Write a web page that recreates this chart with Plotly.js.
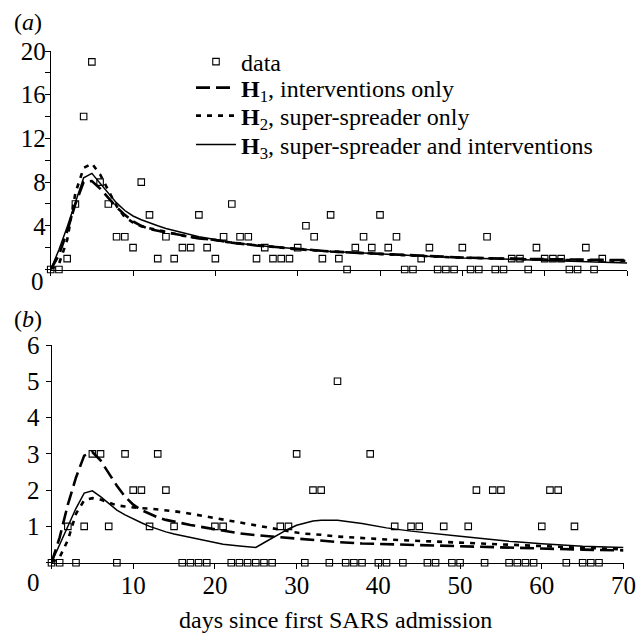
<!DOCTYPE html>
<html>
<head>
<meta charset="utf-8">
<script src="https://cdn.plot.ly/plotly-3.0.1.min.js"></script>
<style>html,body{margin:0;padding:0;background:#fff;}#chart{width:644px;height:635px;}</style>
</head>
<body>
<div id="chart"></div>
<script>
// ---- observed daily cases ----
const days = [0,1,2,3,4,5,6,7,8,9,10,11,12,13,14,15,16,17,18,19,20,21,22,23,24,25,26,27,28,29,30,31,32,33,34,35,36,37,38,39,40,41,42,43,44,45,46,47,48,49,50,51,52,53,54,55,56,57,58,59,60,61,62,63,64,65,66,67];
const casesA = [0,0,1,6,14,19,8,6,3,3,2,8,5,1,3,1,2,2,5,2,1,3,6,3,3,1,2,1,1,1,2,4,3,1,5,1,0,2,3,2,5,2,3,0,0,1,2,0,0,0,2,0,0,3,0,0,1,1,0,2,1,1,1,0,0,2,0,1];
const casesB = [0,0,1,0,1,3,3,1,0,3,2,2,1,3,2,1,0,0,0,0,1,1,0,0,0,0,0,0,1,1,3,0,2,2,0,5,0,0,0,3,0,0,1,0,1,1,0,0,1,0,0,1,2,0,2,2,0,0,0,0,1,2,2,0,1,0,0,0];

// ---- model curves, panel (a) ----
const modelDaysA = [0,1,2,3,4,5,6,7,8,9,10,11,12,13,14,16,18,20,22,25,28,30,34,38,42,46,50,55,60,65,70];
const h1A = [0,1.3,3.5,6.0,8.0,8.1,7.4,6.5,5.7,5.0,4.4,4.0,3.7,3.55,3.4,3.1,2.85,2.7,2.45,2.2,2.0,1.85,1.65,1.5,1.35,1.2,1.1,1.0,0.95,0.9,0.85];
const h2A = [0,0.5,2.7,7.0,9.3,9.7,8.7,7.3,5.8,4.8,4.3,3.95,3.75,3.6,3.45,3.1,2.85,2.7,2.45,2.2,2.0,1.85,1.65,1.48,1.33,1.2,1.08,0.98,0.9,0.85,0.8];
const h3A = [0,1.8,3.9,6.1,8.4,8.8,7.9,7.0,6.1,5.4,4.9,4.55,4.25,4.0,3.75,3.35,3.0,2.75,2.5,2.2,2.0,1.85,1.65,1.5,1.35,1.2,1.05,0.95,0.85,0.75,0.6];

// ---- model curves, panel (b) ----
const modelDaysB = [0,1,2,3,4,5,6,7,8,9,10,11,12,13,14,15,17,19,21,23,25,26,27,28,29,30,31,32,33,35,38,41,44,47,50,53,56,60,63,65,70];
const h1B = [0,0.7,1.6,2.35,2.95,3.05,2.82,2.48,2.12,1.82,1.6,1.45,1.35,1.25,1.18,1.13,1.04,0.96,0.88,0.81,0.76,0.74,0.72,0.7,0.67,0.65,0.63,0.62,0.6,0.57,0.53,0.51,0.49,0.47,0.45,0.44,0.41,0.38,0.37,0.36,0.34];
const h2B = [0,0.15,0.62,1.35,1.72,1.78,1.74,1.65,1.58,1.55,1.52,1.5,1.49,1.47,1.45,1.42,1.35,1.27,1.19,1.1,1.02,0.97,0.93,0.9,0.86,0.83,0.8,0.79,0.77,0.72,0.67,0.64,0.61,0.58,0.55,0.52,0.48,0.44,0.42,0.41,0.37];
const h3B = [0,0.5,1.05,1.5,1.92,1.98,1.82,1.63,1.45,1.32,1.2,1.1,1.0,0.92,0.85,0.79,0.69,0.6,0.51,0.46,0.42,0.55,0.68,0.81,0.93,1.03,1.1,1.15,1.17,1.17,1.08,0.96,0.87,0.79,0.73,0.66,0.59,0.52,0.47,0.45,0.42];

// ---- labels ----
const legendNames = ['data','<b>H</b><sub>1</sub>, interventions only','<b>H</b><sub>2</sub>, super-spreader only','<b>H</b><sub>3</sub>, super-spreader and interventions'];
const xTickVals = [0,10,20,30,40,50,60,70];
const xTickText = ['','10','20','30','40','50','60','70'];
const yTickValsA = [0,4,8,12,16,20];
const yTickTextA = ['','4','8','12','16','20'];
const yMinorA = [2,6,10,14,18];
const yTickValsB = [0,1,2,3,4,5,6];
const yTickTextB = ['','1','2','3','4','5','6'];
const xTitle = 'days since first SARS admission';

const FONT = 'Liberation Serif';
const TICKSIZE = 25, TEXTSIZE = 24;
const marker = {symbol:'square-open', size:6.5, color:'#000', line:{width:1.1, color:'#000'}};
const dashH1 = {color:'#000', width:2.6, dash:'14px,6px'};
const dashH2 = {color:'#000', width:2.6, dash:'5px,6px'};
const solidH3 = {color:'#000', width:1.5};

const traces = [
  {x:days, y:casesA, type:'scatter', mode:'markers', marker:marker, name:legendNames[0], legend:'legend', xaxis:'x', yaxis:'y', cliponaxis:false},
  {x:modelDaysA, y:h1A, type:'scatter', mode:'lines', line:dashH1, name:legendNames[1], legend:'legend2', xaxis:'x', yaxis:'y', cliponaxis:false},
  {x:modelDaysA, y:h2A, type:'scatter', mode:'lines', line:dashH2, name:legendNames[2], legend:'legend3', xaxis:'x', yaxis:'y', cliponaxis:false},
  {x:modelDaysA, y:h3A, type:'scatter', mode:'lines', line:solidH3, name:legendNames[3], legend:'legend4', xaxis:'x', yaxis:'y', cliponaxis:false},
  {x:days, y:casesB, type:'scatter', mode:'markers', marker:marker, showlegend:false, xaxis:'x2', yaxis:'y2', cliponaxis:false},
  {x:modelDaysB, y:h1B, type:'scatter', mode:'lines', line:dashH1, showlegend:false, xaxis:'x2', yaxis:'y2', cliponaxis:false},
  {x:modelDaysB, y:h2B, type:'scatter', mode:'lines', line:dashH2, showlegend:false, xaxis:'x2', yaxis:'y2', cliponaxis:false},
  {x:modelDaysB, y:h3B, type:'scatter', mode:'lines', line:solidH3, showlegend:false, xaxis:'x2', yaxis:'y2', cliponaxis:false}
];

const W = 644, H = 635;
const px = v => v / W;
const py = v => (H - v) / H;

const axisCommon = {showline:true, linecolor:'#000', linewidth:1, ticks:'outside', ticklen:5, tickwidth:1, tickcolor:'#000',
  showgrid:false, zeroline:false, fixedrange:true, tickfont:{family:FONT, size:TICKSIZE, color:'#000'}};

const legendBase = (yc) => ({x:px(191), y:py(yc), xanchor:'left', yanchor:'middle', bgcolor:'rgba(0,0,0,0)', borderwidth:0,
    font:{family:FONT, size:TEXTSIZE, color:'#000'}, itemwidth:40});

const layout = {
  width:W, height:H, margin:{l:0, r:0, t:0, b:0},
  paper_bgcolor:'#fff', plot_bgcolor:'#fff',
  font:{family:FONT, size:TEXTSIZE, color:'#000'},
  xaxis: Object.assign({}, axisCommon, {domain:[px(50.7), px(627)], range:[0,70], anchor:'y', tickmode:'array', tickvals:xTickVals, showticklabels:false}),
  yaxis: Object.assign({}, axisCommon, {domain:[py(269.5), py(51)], range:[0,20], anchor:'x', tickmode:'array', tickvals:yTickValsA, ticktext:yTickTextA, ticklabelstandoff:-6,
     minor:{tickmode:'array', tickvals:yMinorA, ticks:'outside', ticklen:5, tickcolor:'#000', showgrid:false}}),
  xaxis2: Object.assign({}, axisCommon, {domain:[px(51.5), px(623.5)], range:[0,70], anchor:'y2', tickmode:'array', tickvals:xTickVals, ticktext:xTickText, ticklabelstandoff:-5}),
  yaxis2: Object.assign({}, axisCommon, {domain:[py(562.7), py(345)], range:[0,6], anchor:'x2', tickmode:'array', tickvals:yTickValsB, ticktext:yTickTextB, ticklabelstandoff:1}),
  showlegend:true,
  legend: legendBase(62),
  legend2: legendBase(88),
  legend3: legendBase(116),
  legend4: legendBase(145),
  annotations:[
    {text:'(<i>a</i>)', xref:'paper', yref:'paper', x:px(12), y:py(22), xanchor:'left', yanchor:'middle', showarrow:false, font:{family:FONT, size:TEXTSIZE}},
    {text:'(<i>b</i>)', xref:'paper', yref:'paper', x:px(12), y:py(319), xanchor:'left', yanchor:'middle', showarrow:false, font:{family:FONT, size:TEXTSIZE}},
    {text:'0', xref:'paper', yref:'paper', x:px(37), y:py(281), xanchor:'center', yanchor:'middle', showarrow:false, font:{family:FONT, size:TICKSIZE}},
    {text:'0', xref:'paper', yref:'paper', x:px(33), y:py(582), xanchor:'center', yanchor:'middle', showarrow:false, font:{family:FONT, size:TICKSIZE}},
    {text:xTitle, xref:'paper', yref:'paper', x:px(335), y:py(620), xanchor:'center', yanchor:'middle', showarrow:false, font:{family:FONT, size:TEXTSIZE}}
  ]
};

Plotly.newPlot('chart', traces, layout, {staticPlot:true, displayModeBar:false});
</script>
</body>
</html>
